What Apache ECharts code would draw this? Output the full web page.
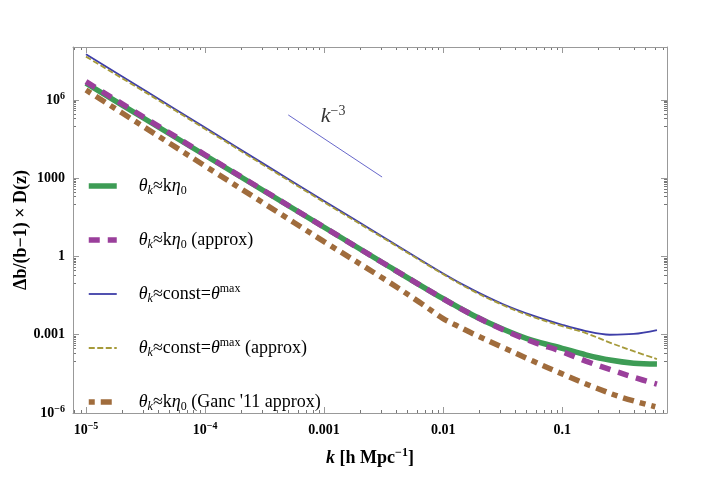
<!DOCTYPE html>
<html>
<head>
<meta charset="utf-8">
<script src="https://cdn.jsdelivr.net/npm/echarts@6/dist/echarts.min.js"></script>
<style>
  html, body { margin: 0; padding: 0; background: #fff; }
  #chart { width: 721px; height: 500px; }
</style>
</head>
<body>
<div id="chart"></div>
<script>
// k values (h/Mpc) the curves were read at
const kMain = [1e-5, 3.16e-5, 1e-4, 3.16e-4, 1e-3, 3.16e-3, 0.01, 0.0178, 0.0316, 0.0562, 0.1, 0.158, 0.251, 0.398, 0.625];
const greenVals  = [4.37e6, 1.82e5, 7.59e3, 316, 13.2, 0.550, 0.0240, 5.62e-3, 1.66e-3, 6.03e-4, 3.02e-4, 1.70e-4, 1.07e-4, 8.13e-5, 7.59e-5];
const purpleVals = [5.01e6, 2.00e5, 7.94e3, 324, 13.2, 0.550, 0.0240, 5.62e-3, 1.58e-3, 5.37e-4, 2.24e-4, 9.77e-5, 4.68e-5, 2.34e-5, 1.29e-5];
const blueVals   = [5.62e7, 2.24e6, 8.71e4, 3.39e3, 135, 5.50, 0.224, 0.0525, 0.0151, 5.50e-3, 2.40e-3, 1.38e-3, 1.0e-3, 1.07e-3, 1.51e-3];
const oliveVals  = [4.57e7, 1.95e6, 7.76e4, 3.02e3, 120, 5.01, 0.209, 0.0479, 0.0138, 4.90e-3, 2.14e-3, 1.15e-3, 5.01e-4, 2.34e-4, 1.17e-4];
const kGanc    = [1e-5, 3.16e-5, 1e-4, 3.16e-4, 1e-3, 3.16e-3, 6.31e-3, 0.01, 0.0126, 0.0178, 0.0316, 0.0562, 0.1, 0.178, 0.316, 0.605];
const gancVals = [2.40e6, 8.51e4, 2.95e3, 105, 3.72, 0.141, 0.0178, 4.17e-3, 2.40e-3, 1.10e-3, 3.31e-4, 1.0e-4, 3.16e-5, 1.05e-5, 3.98e-6, 1.74e-6];

// k^-3 guide line and its label
const guideLine = [[5.0e-4, 2.66e5], [3.07e-3, 1.11e3]];
const guideLabelAt = [1.19e-3, 2.4e5];

const seriesNames = ['green', 'purple', 'blue', 'olive', 'ganc'];
const legendText = {
  green:  '{g| }{it|θ}{sub|k}≈k{it|η}{sub0|0}',
  purple: '{g| }{it|θ}{sub|k}≈k{it|η}{sub0|0} (approx)',
  blue:   '{g| }{it|θ}{sub|k}≈const={it|θ}{sup|max}',
  olive:  '{g| }{it|θ}{sub|k}≈const={it|θ}{sup|max} (approx)',
  ganc:   '{g| }{it|θ}{sub|k}≈k{it|η}{sub0|0} (Ganc \'11 approx)'
};

const xMin = 7.78e-6, xMax = 0.759;
const yMin = 1e-6, yMax = 1.07e8;
const serif = 'Liberation Serif';

function pairs(ks, vs) { return ks.map((k, i) => [k, vs[i]]); }

function expOf(v) {
  const e = Math.log10(v);
  const r = Math.round(e);
  return Math.abs(e - r) < 1e-6 ? r : null;
}

const supRich = {
  sup: { fontFamily: serif, fontSize: 10, fontWeight: 'bold', lineHeight: 10, verticalAlign: 'top', color: '#000' },
  b: { fontFamily: serif, fontSize: 14, fontWeight: 'bold', lineHeight: 18, color: '#000' }
};

const chart = echarts.init(document.getElementById('chart'));

const option = {
  animation: false,
  backgroundColor: '#fff',
  grid: { left: 73, right: 54, top: 47, bottom: 87, outerBoundsMode: 'none' },
  legend: {
    data: seriesNames,
    orient: 'vertical',
    left: 86,
    top: 175,
    padding: 0,
    itemWidth: 28,
    itemHeight: 14,
    itemGap: 32,
    selectedMode: false,
    itemStyle: { opacity: 0, borderWidth: 0 },
    lineStyle: { width: 'inherit' },
    formatter: n => legendText[n],
    textStyle: {
      fontFamily: serif, fontSize: 18, color: '#000', lineHeight: 22,
      rich: {
        g: { width: 17 },
        it: { fontFamily: serif, fontSize: 18, fontStyle: 'italic', lineHeight: 22 },
        sub: { fontFamily: serif, fontSize: 12, fontStyle: 'italic', lineHeight: 12, verticalAlign: 'bottom' },
        sub0: { fontFamily: serif, fontSize: 12, lineHeight: 12, verticalAlign: 'bottom' },
        sup: { fontFamily: serif, fontSize: 12, lineHeight: 12, verticalAlign: 'top' }
      }
    }
  },
  xAxis: [{
    type: 'log', logBase: 10, min: xMin, max: xMax,
    name: '{i|k}{b| [h Mpc}{sup|−1}{b|]}',
    nameLocation: 'middle', nameGap: 34, nameMoveOverlap: false,
    nameTextStyle: {
      rich: {
        i: { fontFamily: serif, fontSize: 18, fontWeight: 'bold', fontStyle: 'italic', lineHeight: 22, color: '#000' },
        b: { fontFamily: serif, fontSize: 18, fontWeight: 'bold', lineHeight: 22, color: '#000' },
        sup: { fontFamily: serif, fontSize: 12, fontWeight: 'bold', lineHeight: 12, verticalAlign: 'top', color: '#000' }
      }
    },
    axisLine: { lineStyle: { color: '#999' } },
    axisTick: { inside: true, length: 6, lineStyle: { color: '#999' } },
    splitLine: { show: false },
    axisLabel: {
      margin: 8,
      formatter: v => {
        const e = expOf(v);
        if (e === null) return '';
        if (e === -5 || e === -4) return '{b|10}{sup|−' + (-e) + '}';
        return '{b|' + ({ '-3': '0.001', '-2': '0.01', '-1': '0.1' })[e] + '}';
      },
      rich: supRich
    }
  }, {
    type: 'log', logBase: 10, min: xMin, max: xMax, position: 'top',
    axisLine: { lineStyle: { color: '#999' } },
    axisTick: { inside: true, length: 6, lineStyle: { color: '#999' } },
    axisLabel: { show: false },
    splitLine: { show: false }
  }],
  yAxis: [{
    type: 'log', logBase: 10, min: yMin, max: yMax, interval: 3,
    name: 'Δb/(b−1) × D(z)',
    nameLocation: 'middle', nameGap: 43, nameMoveOverlap: false,
    nameTextStyle: { fontFamily: serif, fontSize: 18, fontWeight: 'bold', color: '#000' },
    axisLine: { lineStyle: { color: '#999' } },
    axisTick: { inside: true, length: 6, lineStyle: { color: '#999' } },
    splitLine: { show: false },
    axisLabel: {
      margin: 8,
      formatter: v => {
        const e = expOf(v);
        if (e === null || e % 3 !== 0) return '';
        if (e === -6) return '{b|10}{sup|−6}';
        if (e === 6) return '{b|10}{sup|6}';
        return '{b|' + ({ '-3': '0.001', '0': '1', '3': '1000' })[e] + '}';
      },
      rich: supRich
    }
  }, {
    type: 'log', logBase: 10, min: yMin, max: yMax, interval: 3, position: 'right',
    axisLine: { lineStyle: { color: '#999' } },
    axisTick: { inside: true, length: 6, lineStyle: { color: '#999' } },
    axisLabel: { show: false },
    splitLine: { show: false }
  }],
  series: [
    {
      name: 'green', type: 'line', symbol: 'none', smooth: 0.35, z: 2,
      data: pairs(kMain, greenVals),
      itemStyle: { color: '#3d9c55' },
      lineStyle: { color: '#3d9c55', width: 5.5 }
    },
    {
      name: 'purple', type: 'line', symbol: 'none', smooth: 0.35, z: 3,
      data: pairs(kMain, purpleVals),
      itemStyle: { color: '#9a3f9b' },
      lineStyle: { color: '#9a3f9b', width: 5.5, type: [11, 8] }
    },
    {
      name: 'blue', type: 'line', symbol: 'none', smooth: 0.35, z: 4,
      data: pairs(kMain, blueVals),
      itemStyle: { color: '#3e3ea8' },
      lineStyle: { color: '#3e3ea8', width: 1.8 }
    },
    {
      name: 'olive', type: 'line', symbol: 'none', smooth: 0.35, z: 5,
      data: pairs(kMain, oliveVals),
      itemStyle: { color: '#a69a3a' },
      lineStyle: { color: '#a69a3a', width: 1.8, type: [6, 2.5] }
    },
    {
      name: 'ganc', type: 'line', symbol: 'none', smooth: 0.35, z: 6,
      data: pairs(kGanc, gancVals),
      itemStyle: { color: '#a06c3c' },
      lineStyle: { color: '#a06c3c', width: 5.5, type: [6, 6, 11, 6] }
    },
    {
      name: 'guide', type: 'line', symbol: 'none', silent: true,
      data: guideLine,
      lineStyle: { color: '#5656c4', width: 0.9 }
    },
    {
      name: 'guideLabel', type: 'scatter', symbolSize: 0, silent: true,
      data: [guideLabelAt],
      label: {
        show: true, position: 'inside',
        formatter: '{i|k}{s|−3}',
        rich: {
          i: { fontFamily: serif, fontSize: 22, fontStyle: 'italic', lineHeight: 24, color: '#000' },
          s: { fontFamily: serif, fontSize: 14, lineHeight: 14, verticalAlign: 'top', color: '#000' }
        }
      }
    }
  ]
};

chart.setOption(option);

// Mathematica-style minor ticks at 2..9 x 10^n, placed through the axis scales
function minorTicks() {
  const els = [];
  const top = chart.convertToPixel({ yAxisIndex: 0 }, yMax);
  const bottom = chart.convertToPixel({ yAxisIndex: 0 }, yMin);
  const left = chart.convertToPixel({ xAxisIndex: 0 }, xMin);
  const right = chart.convertToPixel({ xAxisIndex: 0 }, xMax);
  const tick = (x1, y1, x2, y2) => els.push({
    type: 'line', silent: true,
    shape: { x1, y1, x2, y2 },
    style: { stroke: '#777', lineWidth: 1 }
  });
  for (let e = -6; e <= -1; e++) {
    for (let m = 2; m <= 9; m++) {
      const v = m * Math.pow(10, e);
      if (v <= xMin || v >= xMax) continue;
      const px = Math.round(chart.convertToPixel({ xAxisIndex: 0 }, v)) + 0.5;
      tick(px, bottom, px, bottom - 3);
      tick(px, top, px, top + 3);
    }
  }
  [-7, -4, -1, 2, 5].forEach(e => {
    for (let m = 1; m <= 9; m++) {
      const v = m * Math.pow(10, e);
      if (v <= yMin || v >= yMax) continue;
      const py = Math.round(chart.convertToPixel({ yAxisIndex: 0 }, v)) + 0.5;
      tick(left, py, left + 3, py);
      tick(right, py, right - 3, py);
    }
  });
  chart.setOption({ graphic: els });
}
minorTicks();
</script>
</body>
</html>
